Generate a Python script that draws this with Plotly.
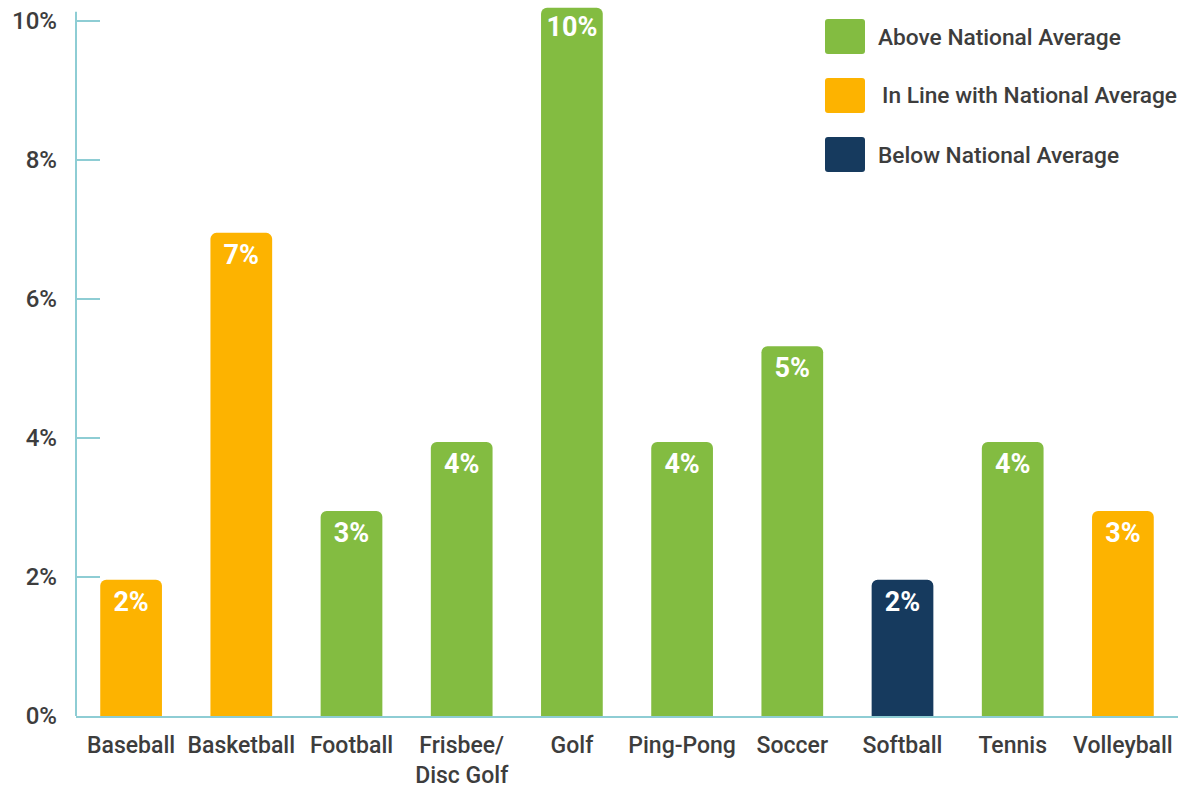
import plotly.graph_objects as go

categories = ["Baseball", "Basketball", "Football", "Frisbee/<br>Disc Golf", "Golf",
              "Ping-Pong", "Soccer", "Softball", "Tennis", "Volleyball"]
values = [1.96, 6.95, 2.95, 3.94, 10.19, 3.94, 5.32, 1.96, 3.94, 2.95]
labels = ["2%", "7%", "3%", "4%", "10%", "4%", "5%", "2%", "4%", "3%"]
groups = ["In Line", "In Line", "Above", "Above", "Above", "Above", "Above", "Below", "Above", "In Line"]
group_names = {"Above": "Above National Average",
               "In Line": "In Line with National Average",
               "Below": "Below National Average"}
group_colors = {"Above": "#83bc41", "In Line": "#fdb300", "Below": "#163a5e"}
tick_vals = [0, 2, 4, 6, 8, 10]
tick_text = ["0%", "2%", "4%", "6%", "8%", "10%"]

FONT = "Roboto, Liberation Sans, sans-serif"
TEXT = "#3d3d3d"
AXIS = "#8ecdd4"

W, H = 1184, 789
ML, MR, MT, MB = 76, 6, 0, 73
PW, PH = W - ML - MR, H - MT - MB


def px_x(px):
    return (px - ML) / PW


def px_y(py):
    return 1 - (py - MT) / PH


fig = go.Figure()
fig.add_trace(go.Bar(
    x=categories, y=values,
    marker=dict(color=[group_colors[g] for g in groups], line=dict(width=0)),
    text=labels, textposition="inside", insidetextanchor="end",
    textfont=dict(family=FONT, size=27, color="white", weight="bold"),
    textangle=0, hoverinfo="x+y", showlegend=False,
))

# y axis line (stops at top of axis)
fig.add_shape(type="line", xref="paper", yref="y", x0=0, x1=0, y0=0, y1=10.13,
              line=dict(color=AXIS, width=2), layer="above")

# legend drawn as rounded swatches + text
legend_order = ["Above", "In Line", "Below"]
for i, g in enumerate(legend_order):
    top = 19 + i * 59
    x0, x1 = px_x(825), px_x(865)
    y1, y0 = px_y(top), px_y(top + 35)
    r = 3 / PW
    ry = 3 / PH
    path = (f"M {x0+r},{y0} L {x1-r},{y0} Q {x1},{y0} {x1},{y0+ry} L {x1},{y1-ry} "
            f"Q {x1},{y1} {x1-r},{y1} L {x0+r},{y1} Q {x0},{y1} {x0},{y1-ry} "
            f"L {x0},{y0+ry} Q {x0},{y0} {x0+r},{y0} Z")
    fig.add_shape(type="path", xref="paper", yref="paper", path=path,
                  fillcolor=group_colors[g], line=dict(width=0))
    fig.add_annotation(xref="paper", yref="paper", x=px_x(876 if g != "In Line" else 880),
                       y=px_y(top + 18), text=group_names[g], showarrow=False,
                       xanchor="left", yanchor="middle",
                       font=dict(family=FONT, size=22.7, color=TEXT, weight=500))

fig.update_layout(
    width=W, height=H,
    margin=dict(l=ML, r=MR, t=MT, b=MB, autoexpand=False),
    paper_bgcolor="white", plot_bgcolor="white",
    bargap=0.44, barcornerradius=6,
    xaxis=dict(
        type="category", showline=True, linecolor=AXIS, linewidth=2,
        showgrid=False, ticks="", tickfont=dict(family=FONT, size=23, color=TEXT, weight=500),
        range=[-0.5, 9.5], fixedrange=True, ticklabelstandoff=7,
    ),
    yaxis=dict(
        range=[0, 10.3], showline=False, showgrid=False, zeroline=False,
        tickvals=tick_vals, ticktext=tick_text,
        ticks="inside", ticklen=24, tickwidth=2, tickcolor=AXIS,
        tickfont=dict(family=FONT, size=24, color=TEXT, weight=500), ticklabelstandoff=18,
    ),
)

fig.write_html("out.html")
